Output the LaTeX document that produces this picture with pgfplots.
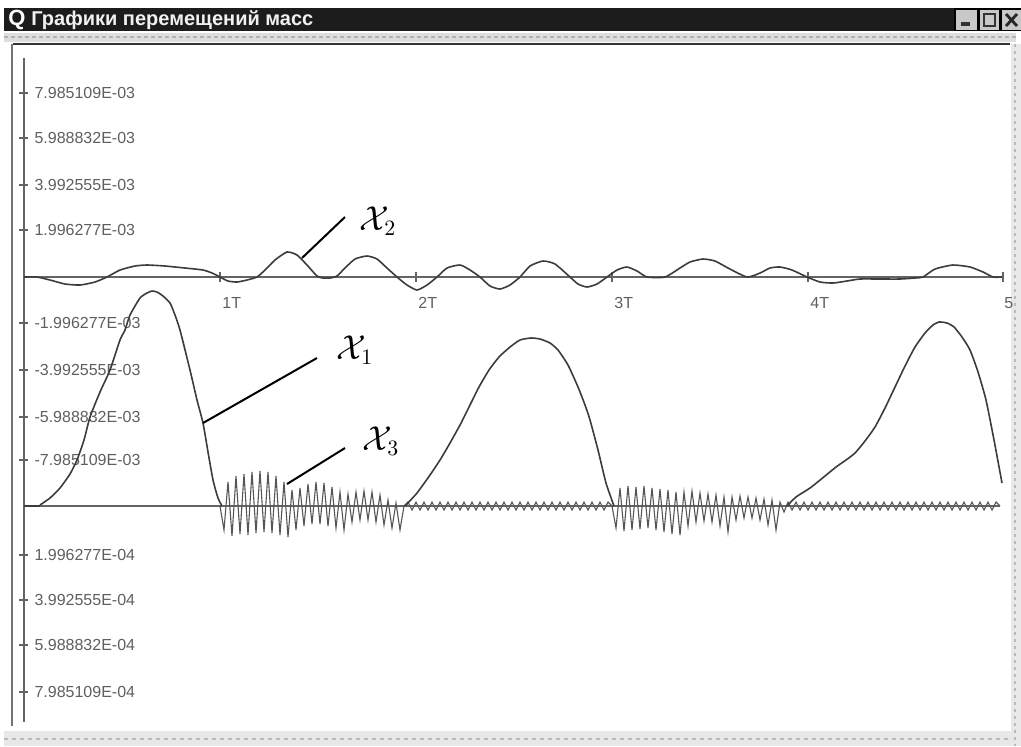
\documentclass[border=0pt]{standalone}
\usepackage{pgfplots}
\pgfplotsset{compat=1.18}
\usepackage{fontspec}
\setmainfont{Liberation Sans}
\definecolor{curve}{RGB}{60,60,60}
\definecolor{base}{RGB}{100,100,100}
\definecolor{lab}{RGB}{95,95,95}
\definecolor{osc}{RGB}{85,85,85}
\definecolor{titlebg}{RGB}{28,28,28}
\definecolor{btn}{RGB}{200,200,200}
\definecolor{stripe}{RGB}{222,222,222}

\pgfplotstableread{
x y
24 277
37 277
50 280
65 284
80 285
95 282
107 277
120 270
135 266
147 265
165 266
185 268
203 270
212 273
220 277
228 281
237 282
247 280
257 277
265 270
275 260
287 252
297 255
307 265
317 276
323 278
330 278
337 276
345 268
355 259
367 256
377 259
387 268
397 277
407 285
417 290
427 285
437 277
447 268
460 265
470 270
480 277
490 286
500 289
510 285
520 277
530 266
543 261
555 264
570 277
578 284
587 287
597 284
607 277
617 270
627 267
637 271
647 277
665 277
680 268
690 262
703 259
715 261
728 268
747 277
760 273
770 268
780 267
792 270
807 277
820 282
833 283
847 281
860 279
880 279
900 279
915 278
923 277
935 269
953 265
970 267
983 272
993 277
1002 277
}\xtwo

% x1, first hump (from rest to return)
\pgfplotstableread{
x y
40 505
50 498
60 488
70 474
77 460
84 440
90 417
100 392
110 370
120 340
125 330
130 315
140 298
147 293
152 291
157 292
163 296
170 303
175 315
180 330
190 370
197 400
203 423
208 452
213 480
218 498
222 506
}\xoneA

% x1, second hump
\pgfplotstableread{
x y
405 506
417 493
430 475
440 460
450 443
460 425
470 405
479 387
489 370
499 357
510 347
520 340
531 338
540 339
550 343
558 350
568 365
578 387
585 405
590 420
598 450
606 483
614 506
}\xoneB

% x1, third hump
\pgfplotstableread{
x y
787 506
796 497
810 488
825 476
836 467
846 460
855 453
865 441
875 427
885 408
895 387
905 366
915 347
925 333
933 325
939 322
947 323
954 327
962 337
970 350
978 372
986 400
994 440
1002 483
}\xoneC

% x1 at rest between the humps
\pgfplotstableread{
x y
24 506
40 506
}\xoneR

\pgfplotstableread{
x y
220 506
224 530
228 482
232 536
236 476
240 534
244 474
248 535
252 472
256 533
260 471
264 532
268 472
272 533
276 476
280 535
284 482
288 537
292 490
296 530
300 488
304 526
308 484
312 524
316 482
320 524
324 483
328 526
332 487
336 528
340 492
344 530
348 494
352 522
356 492
360 520
364 491
368 520
372 492
376 522
380 495
384 525
388 500
392 528
396 503
400 530
404 506
408 502
412 510
416 502
420 510
424 502
428 510
432 502
436 510
440 502
444 510
448 502
452 510
456 502
460 510
464 502
468 510
472 502
476 510
480 502
484 510
488 502
492 510
496 502
500 510
504 502
508 510
512 502
516 510
520 502
524 510
528 502
532 510
536 502
540 510
544 502
548 510
552 502
556 510
560 502
564 510
568 502
572 510
576 502
580 510
584 502
588 510
592 502
596 510
600 502
604 510
608 502
612 506
616 528
620 488
624 531
628 486
632 530
636 487
640 529
644 486
648 528
652 488
656 530
660 489
664 532
668 490
672 534
676 492
680 535
684 492
688 526
692 491
696 522
700 493
704 521
708 494
712 522
716 495
720 526
724 497
728 532
732 497
736 520
740 496
744 518
748 497
752 518
756 498
760 520
764 499
768 525
772 500
776 530
780 502
784 512
788 502
792 510
796 502
800 510
804 502
808 510
812 502
816 510
820 502
824 510
828 502
832 510
836 502
840 510
844 502
848 510
852 502
856 510
860 502
864 510
868 502
872 510
876 502
880 510
884 502
888 510
892 502
896 510
900 502
904 510
908 502
912 510
916 502
920 510
924 502
928 510
932 502
936 510
940 502
944 510
948 502
952 510
956 502
960 510
964 502
968 510
972 502
976 510
980 502
984 510
988 502
992 510
996 502
1000 506
}\xthree

\begin{document}
\begin{tikzpicture}
\begin{axis}[
  x=0.5pt, y=0.5pt, y dir=reverse,
  xmin=24, xmax=1010, ymin=58, ymax=722,
  clip=false,
  axis x line=none,
  axis y line=left,
  xtick=\empty,
  y axis line style={-, draw=base, line width=0.8pt},
  ytick={93,138,185,230,323,370,417,460,555,600,645,692},
  yticklabels={7.985109E-03,5.988832E-03,3.992555E-03,1.996277E-03,
    -1.996277E-03,-3.992555E-03,-5.988832E-03,-7.985109E-03,
    1.996277E-04,3.992555E-04,5.988832E-04,7.985109E-04},
  tick align=center,
  major tick length=4.5pt,
  ytick style={draw=base, line width=0.6pt},
  yticklabel style={anchor=west, xshift=4pt, text=lab, font=\fontsize{8}{9}\selectfont},
]
% window decorations
\fill[titlebg] (axis cs:4,8) rectangle (axis cs:954,31);
\node[text=white, font=\bfseries\fontsize{11}{12}\selectfont] at (axis cs:17,20) {Q};
\node[anchor=west, text=white!88!gray, font=\bfseries\fontsize{10}{12}\selectfont, inner sep=0pt] at (axis cs:31,20) {Графики перемещений масс};
\fill[black] (axis cs:954,8) rectangle (axis cs:1021,31);
\fill[btn] (axis cs:956,10) rectangle (axis cs:977,30);
\fill[btn] (axis cs:980,10) rectangle (axis cs:999,30);
\fill[btn] (axis cs:1002,10) rectangle (axis cs:1021,30);
\fill[black!80] (axis cs:961,22) rectangle (axis cs:970,26);
\draw[black!80, line width=1.2pt] (axis cs:984,14) rectangle (axis cs:995,26);
\draw[black!85, line width=1.4pt] (axis cs:1006,14) -- (axis cs:1017,26) (axis cs:1006,26) -- (axis cs:1017,14);
\fill[stripe] (axis cs:4,33) rectangle (axis cs:1016,42);
\draw[gray!60, line width=0.6pt, dash pattern=on 2pt off 1.5pt] (axis cs:4,37) -- (axis cs:1016,37);
\draw[black!80, line width=1pt] (axis cs:13,44) -- (axis cs:1010,44);
\draw[black!55, line width=1pt] (axis cs:12,44) -- (axis cs:12,726);
\fill[stripe!70] (axis cs:1011,44) rectangle (axis cs:1021,746);
\draw[gray!55, line width=0.6pt, dash pattern=on 1.5pt off 2pt] (axis cs:1015,44) -- (axis cs:1015,746);
\fill[stripe!70] (axis cs:4,731) rectangle (axis cs:1011,746);
\draw[gray!55, line width=0.6pt, dash pattern=on 2pt off 2pt] (axis cs:4,739) -- (axis cs:1011,739);
% x tick marks and labels on the upper baseline
\draw[base, line width=0.6pt] (axis cs:220,272) -- (axis cs:220,282);
\draw[base, line width=0.6pt] (axis cs:416,272) -- (axis cs:416,282);
\draw[base, line width=0.6pt] (axis cs:612,272) -- (axis cs:612,282);
\draw[base, line width=0.6pt] (axis cs:808,272) -- (axis cs:808,282);
\draw[base, line width=0.6pt] (axis cs:1003,272) -- (axis cs:1003,282);
\node[anchor=west, text=lab, font=\fontsize{8}{9}\selectfont, inner sep=0pt] at (axis cs:222,303) {1T};
\node[anchor=west, text=lab, font=\fontsize{8}{9}\selectfont, inner sep=0pt] at (axis cs:418,303) {2T};
\node[anchor=west, text=lab, font=\fontsize{8}{9}\selectfont, inner sep=0pt] at (axis cs:614,303) {3T};
\node[anchor=west, text=lab, font=\fontsize{8}{9}\selectfont, inner sep=0pt] at (axis cs:810,303) {4T};
\node[anchor=west, text=lab, font=\fontsize{8}{9}\selectfont, inner sep=0pt] at (axis cs:1004,303) {5};
% baselines
\addplot[base, line width=0.8pt] coordinates {(24,277) (1003,277)};
\addplot[base, line width=0.9pt] coordinates {(24,506) (1000,506)};
% curves
\addplot[osc, line width=0.55pt] table {\xthree};
\addplot[curve, line width=0.8pt, smooth, tension=0.35] table {\xtwo};
\addplot[curve, line width=0.8pt] table {\xoneR};
\addplot[curve, line width=0.8pt, smooth, tension=0.35] table {\xoneA};
\addplot[curve, line width=0.8pt, smooth, tension=0.35] table {\xoneB};
\addplot[curve, line width=0.8pt, smooth, tension=0.35] table {\xoneC};
% annotations
\draw[black, line width=1pt] (axis cs:302,258) -- (axis cs:345,217);
\node[font=\fontsize{16}{18}\selectfont] at (axis cs:378,221) {$\mathcal{X}_2$};
\draw[black, line width=1pt] (axis cs:203,423) -- (axis cs:317,358);
\node[font=\fontsize{16}{18}\selectfont] at (axis cs:355,350) {$\mathcal{X}_1$};
\draw[black, line width=1pt] (axis cs:287,484) -- (axis cs:345,448);
\node[font=\fontsize{16}{18}\selectfont] at (axis cs:381,441) {$\mathcal{X}_3$};
\coordinate (TL) at (axis cs:0,0);
\coordinate (BR) at (axis cs:1021,746);
\end{axis}
\path[use as bounding box] (TL) rectangle (BR);
\end{tikzpicture}
\end{document}
